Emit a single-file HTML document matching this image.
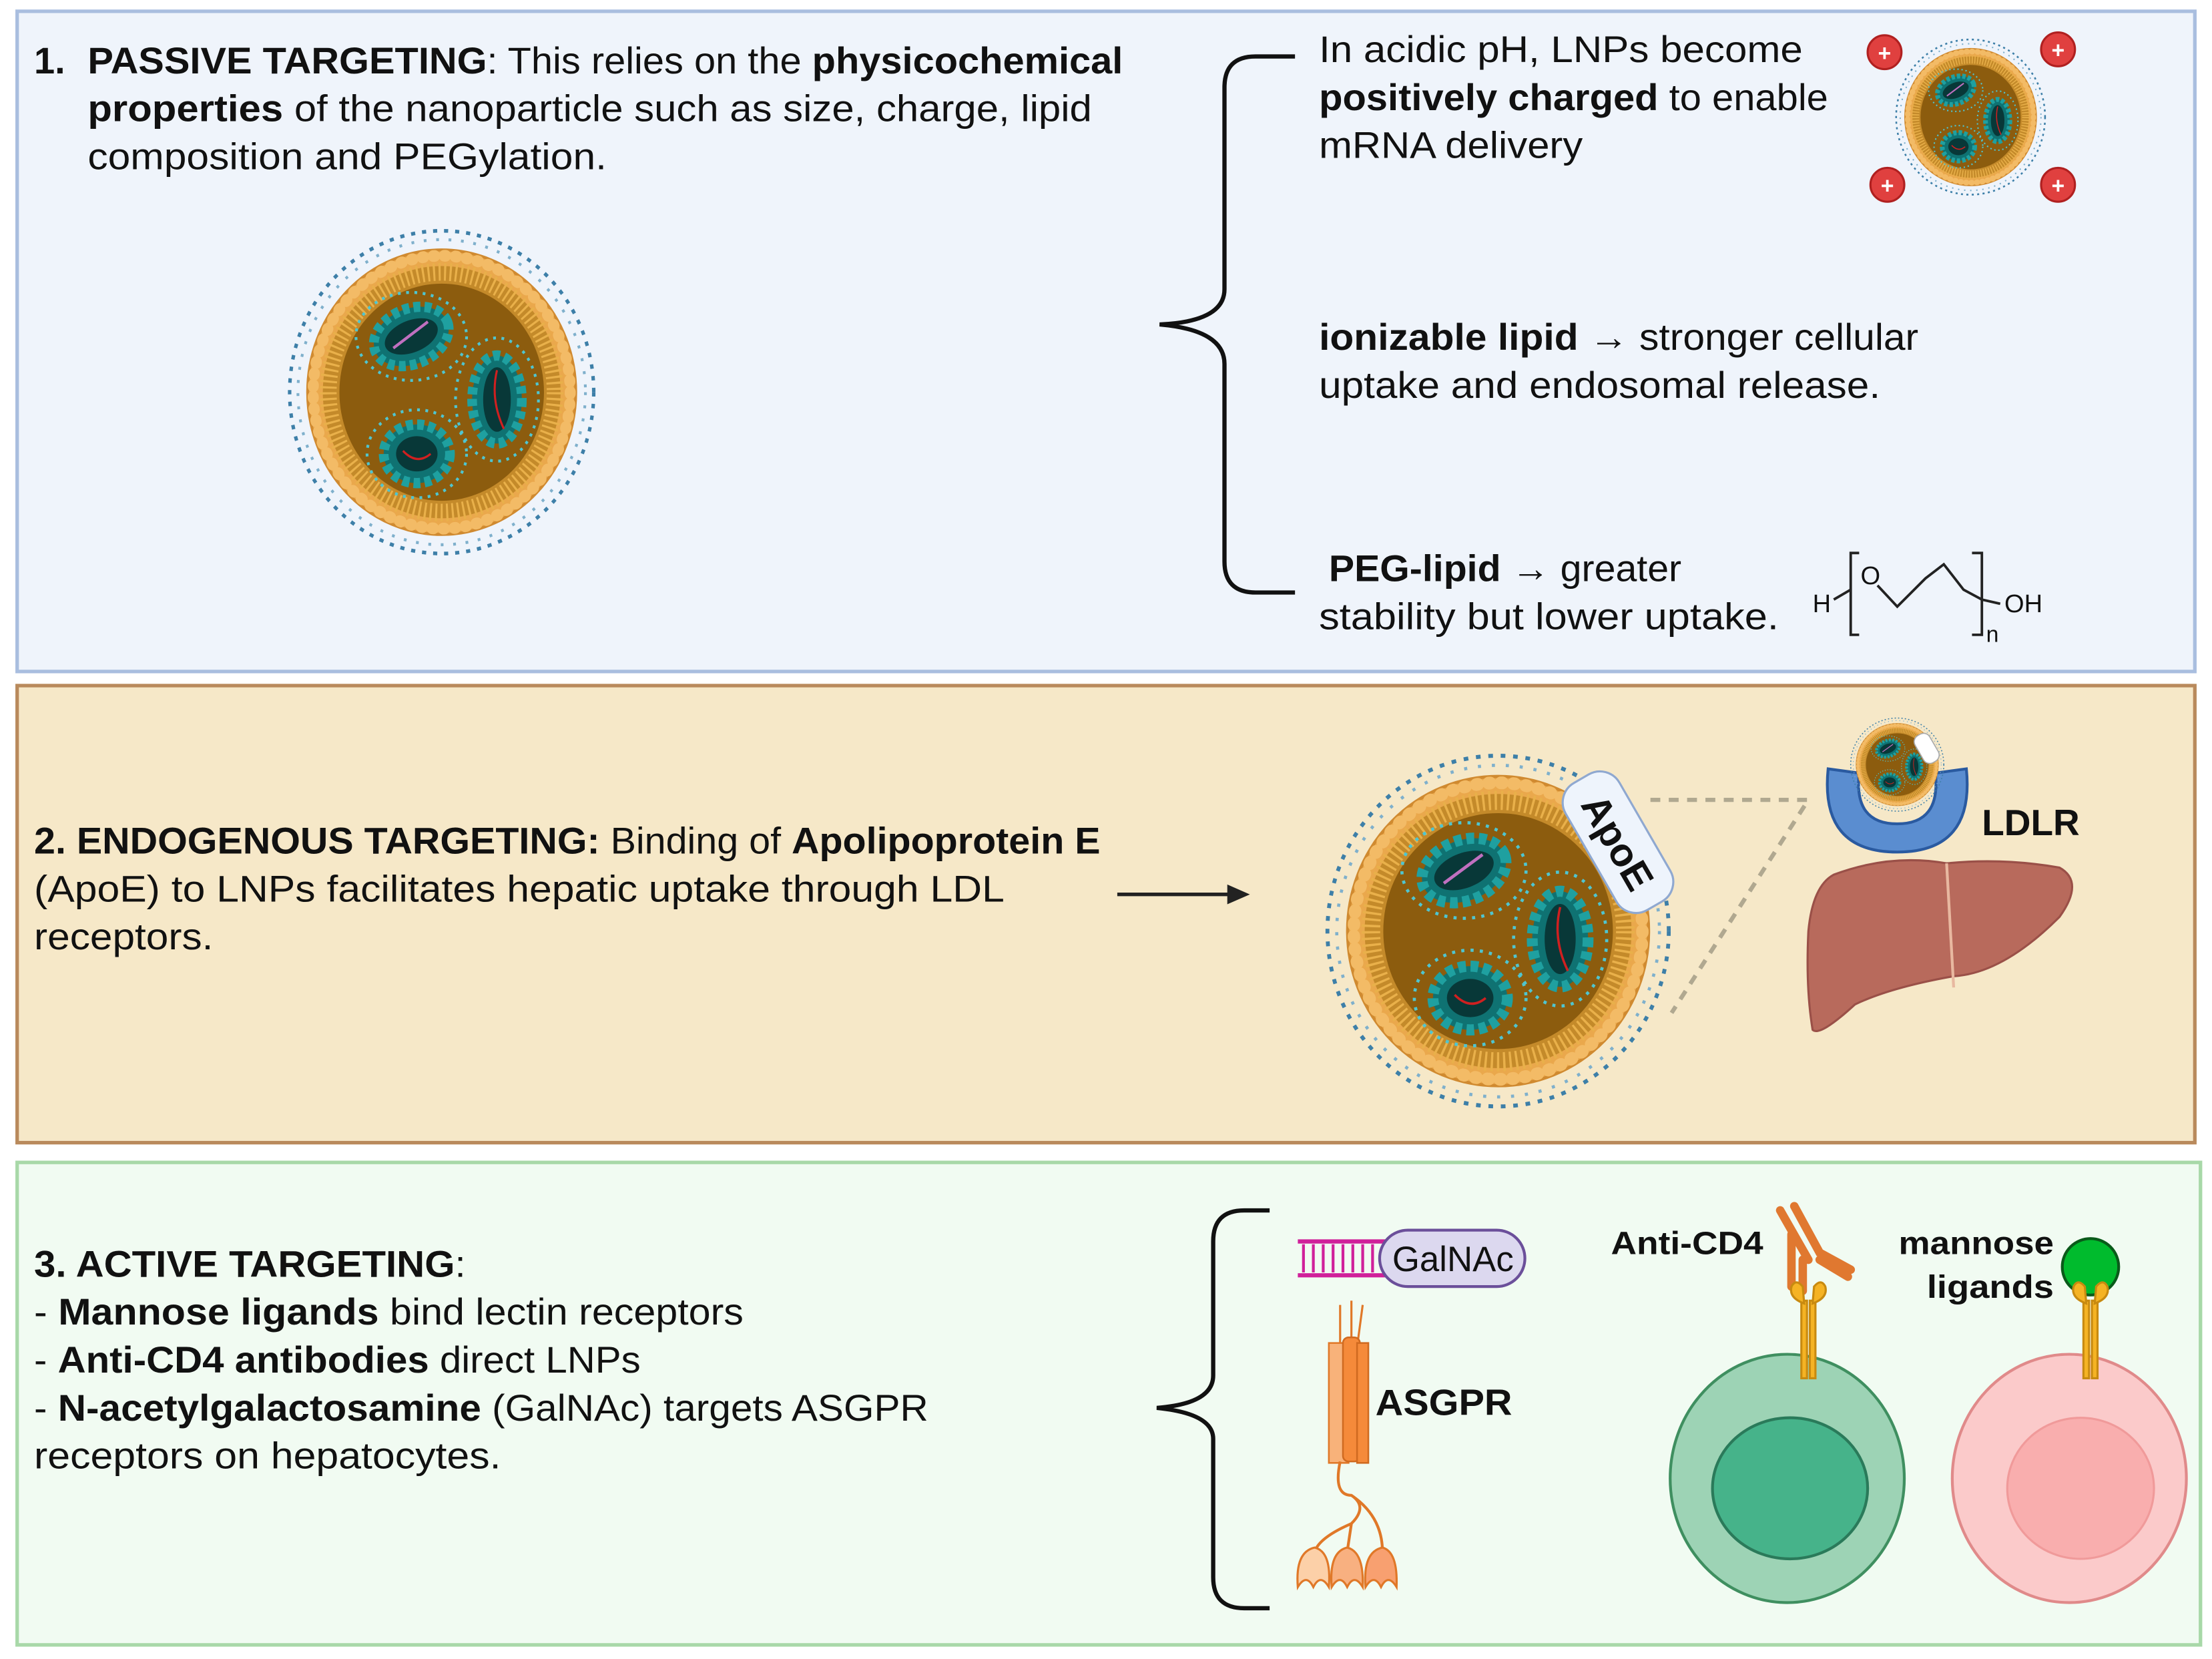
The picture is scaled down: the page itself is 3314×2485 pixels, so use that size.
<!DOCTYPE html>
<html><head><meta charset="utf-8"><style>
html,body{margin:0;padding:0;background:#fff;}
svg{display:block;}
text{font-family:"Liberation Sans",Arial,sans-serif;fill:#111;}
.t{font-size:26.5px;}
.b{font-weight:bold;}
</style></head><body>
<svg width="3314" height="2485" viewBox="0 0 1568 1176" xmlns="http://www.w3.org/2000/svg">
<defs>
<g id="lnp">
  <circle r="110" fill="none" stroke="#3d7fa8" stroke-width="2.5" stroke-dasharray="3 5"/>
  <circle r="104" fill="none" stroke="#7fb0cc" stroke-width="2" stroke-dasharray="2 7"/>
  <circle r="97" fill="#eaa84c" stroke="#d08a30" stroke-width="2"/>
  <circle r="93" fill="none" stroke="#f3bb66" stroke-width="8" stroke-dasharray="1 7" stroke-linecap="round"/>
  <circle r="86" fill="#c48a2a"/>
  <circle r="82" fill="none" stroke="#e9b04a" stroke-width="12" stroke-dasharray="1.5 2.5"/>
  <circle r="74" fill="#8c5c0e"/>
  <g stroke="#4fc5d0" stroke-width="2">
    <ellipse cx="-22" cy="-38" rx="40" ry="30" fill="none" stroke-dasharray="2 4"/>
    <ellipse cx="40" cy="5" rx="30" ry="42" fill="none" stroke-dasharray="2 4"/>
    <ellipse cx="-18" cy="42" rx="36" ry="30" fill="none" stroke-dasharray="2 4"/>
  </g>
  <g fill="#0f7272" stroke="#1fa0a0" stroke-width="7" stroke-dasharray="5 3">
    <ellipse cx="-22" cy="-38" rx="28" ry="19" transform="rotate(-20 -22 -38)"/>
    <ellipse cx="40" cy="5" rx="18" ry="30"/>
    <ellipse cx="-18" cy="42" rx="24" ry="20"/>
  </g>
  <ellipse cx="-22" cy="-38" rx="20" ry="11" fill="#083838" transform="rotate(-20 -22 -38)"/>
  <ellipse cx="40" cy="5" rx="10" ry="22" fill="#083838"/>
  <ellipse cx="-18" cy="42" rx="15" ry="12" fill="#083838"/>
  <path d="M-35,-30 L-10,-48" stroke="#c070c0" stroke-width="2"/>
  <path d="M40,-15 Q35,5 45,25" stroke="#d02020" stroke-width="1.5" fill="none"/>
  <path d="M-28,40 Q-18,50 -8,42" stroke="#d02020" stroke-width="1.5" fill="none"/>
</g>
<g id="rec" fill="#f5b324" stroke="#c88a10" stroke-width="1.5">
  <rect x="-5" y="0" width="4" height="55"/>
  <rect x="1" y="0" width="4" height="55"/>
  <path d="M-3,2 Q-14,-2 -12,-10 Q-9,-16 -4,-10 Z"/>
  <path d="M3,2 Q14,-2 12,-10 Q9,-16 4,-10 Z"/>
</g>
</defs>

<!-- Panel 1 -->
<rect x="12" y="8" width="1544" height="468" fill="#eff4fb" stroke="#a9bedf" stroke-width="2.5"/>
<text class="t b" x="24" y="52">1.</text>
<text class="t" x="62" y="52" textLength="734" lengthAdjust="spacingAndGlyphs"><tspan class="b">PASSIVE TARGETING</tspan>: This relies on the <tspan class="b">physicochemical</tspan></text>
<text class="t" x="62" y="86" textLength="712" lengthAdjust="spacingAndGlyphs"><tspan class="b">properties</tspan> of the nanoparticle such as size, charge, lipid</text>
<text class="t" x="62" y="120" textLength="368" lengthAdjust="spacingAndGlyphs">composition and PEGylation.</text>
<use href="#lnp" transform="translate(313,278) scale(0.98,1.04)"/>
<path d="M918,40 L890,40 Q868,40 868,62 L868,205 Q868,228 822,230 Q868,234 868,258 L868,398 Q868,420 890,420 L918,420" fill="none" stroke="#111" stroke-width="3"/>
<text class="t" x="935" y="44" textLength="343" lengthAdjust="spacingAndGlyphs">In acidic pH, LNPs become</text>
<text class="t" x="935" y="78" textLength="361" lengthAdjust="spacingAndGlyphs"><tspan class="b">positively charged</tspan> to enable</text>
<text class="t" x="935" y="112" textLength="187" lengthAdjust="spacingAndGlyphs">mRNA delivery</text>
<use href="#lnp" transform="translate(1397,83) scale(0.48,0.5)"/>
<g fill="#e0403f" stroke="#b02020" stroke-width="1.5">
<circle cx="1336" cy="37" r="12"/><circle cx="1459" cy="35" r="12"/><circle cx="1338" cy="131" r="12"/><circle cx="1459" cy="131" r="12"/>
</g>
<g font-size="16" font-weight="bold" text-anchor="middle">
<text x="1336" y="43" style="fill:#fff">+</text><text x="1459" y="41" style="fill:#fff">+</text><text x="1338" y="137" style="fill:#fff">+</text><text x="1459" y="137" style="fill:#fff">+</text>
</g>
<text class="t" x="935" y="248" textLength="425" lengthAdjust="spacingAndGlyphs"><tspan class="b">ionizable lipid</tspan> → stronger cellular</text>
<text class="t" x="935" y="282" textLength="398" lengthAdjust="spacingAndGlyphs">uptake and endosomal release.</text>
<text class="t" x="942" y="412" textLength="250" lengthAdjust="spacingAndGlyphs"><tspan class="b">PEG-lipid</tspan> → greater</text>
<text class="t" x="935" y="446" textLength="326" lengthAdjust="spacingAndGlyphs">stability but lower uptake.</text>
<g stroke="#222" stroke-width="1.8" fill="none">
<path d="M1318,392 L1312,392 L1312,450 L1318,450"/>
<path d="M1398,392 L1405,392 L1405,450 L1398,450"/>
<path d="M1300,425 L1312,418 M1331,415 L1345,430 L1365,410 L1378,400 L1392,418 L1405,425 L1418,428"/>
</g>
<text x="1285" y="434" font-size="18">H</text>
<text x="1319" y="414" font-size="18">O</text>
<text x="1421" y="434" font-size="18">OH</text>
<text x="1408" y="455" font-size="16">n</text>

<!-- Panel 2 -->
<rect x="12" y="486" width="1544" height="324" fill="#f6e8c8" stroke="#b98a5c" stroke-width="2.5"/>
<text class="t" x="24" y="605" textLength="756" lengthAdjust="spacingAndGlyphs"><tspan class="b">2.  ENDOGENOUS TARGETING:</tspan> Binding of <tspan class="b">Apolipoprotein E</tspan></text>
<text class="t" x="24" y="639" textLength="688" lengthAdjust="spacingAndGlyphs">(ApoE) to LNPs facilitates hepatic uptake through LDL</text>
<text class="t" x="24" y="673" textLength="127" lengthAdjust="spacingAndGlyphs">receptors.</text>
<path d="M792,634 L872,634" stroke="#222" stroke-width="2.5"/>
<path d="M886,634 L870,627 L870,641 Z" fill="#222"/>
<use href="#lnp" transform="translate(1062,660) scale(1.1,1.13)"/>
<path d="M1170,567 L1282,567 L1185,718" fill="none" stroke="#b0a890" stroke-width="3" stroke-dasharray="7 6"/>
<g transform="translate(1147,597) rotate(60)">
<rect x="-52" y="-22" width="104" height="44" rx="16" fill="#eef4fc" stroke="#8fa8d0" stroke-width="1.5"/>
<text x="0" y="10" font-size="28" font-weight="bold" text-anchor="middle">ApoE</text>
</g>
<path d="M1296,545 Q1290,604 1345,604 Q1400,604 1394,545 L1372,548 Q1376,584 1345,584 Q1314,584 1318,548 Z" fill="#5a8dd0" stroke="#2a5aa0" stroke-width="2"/>
<use href="#lnp" transform="translate(1345,542) scale(0.3)"/>
<rect x="1360" y="520" width="12" height="22" rx="5" fill="#fff" stroke="#aaa" stroke-width="0.8" transform="rotate(-30 1365 531)"/>
<text x="1405" y="592" font-size="26" font-weight="bold">LDLR</text>
<path d="M1300,620 Q1340,605 1380,612 Q1420,608 1460,615 Q1478,625 1460,650 Q1420,690 1385,692 Q1340,700 1315,712 Q1290,735 1285,730 Q1280,700 1282,660 Q1285,628 1300,620 Z" fill="#b86a5c" stroke="#9a5048" stroke-width="1.5"/>
<path d="M1380,612 L1385,700" stroke="#e8b8a0" stroke-width="2" fill="none"/>

<!-- Panel 3 -->
<rect x="12" y="824" width="1548" height="342" fill="#f1fbf2" stroke="#a8d8a8" stroke-width="2.5"/>
<text class="t" x="24" y="905" textLength="306" lengthAdjust="spacingAndGlyphs"><tspan class="b">3.  ACTIVE TARGETING</tspan>:</text>
<text class="t" x="24" y="939" textLength="503" lengthAdjust="spacingAndGlyphs">- <tspan class="b">Mannose ligands</tspan> bind lectin receptors</text>
<text class="t" x="24" y="973" textLength="430" lengthAdjust="spacingAndGlyphs">- <tspan class="b">Anti-CD4 antibodies</tspan> direct LNPs</text>
<text class="t" x="24" y="1007" textLength="634" lengthAdjust="spacingAndGlyphs">- <tspan class="b">N-acetylgalactosamine</tspan> (GalNAc) targets ASGPR</text>
<text class="t" x="24" y="1041" textLength="331" lengthAdjust="spacingAndGlyphs">receptors on hepatocytes.</text>
<path d="M900,858 L882,858 Q860,858 860,880 L860,975 Q860,995 820,998 Q860,1002 860,1020 L860,1118 Q860,1140 882,1140 L900,1140" fill="none" stroke="#111" stroke-width="3"/>
<g stroke="#d0209a" stroke-width="2">
<path d="M920,880 L982,880 M920,904 L982,904" stroke-width="3"/>
<path d="M924,882 V902 M931,882 V902 M938,882 V902 M945,882 V902 M952,882 V902 M959,882 V902 M966,882 V902 M973,882 V902"/>
</g>
<rect x="978" y="872" width="103" height="40" rx="20" fill="#dcd8ef" stroke="#6b4f9a" stroke-width="2"/>
<text x="1030" y="901" font-size="25" text-anchor="middle">GalNAc</text>
<g stroke="#e07828" fill="none" stroke-width="1.5">
<path d="M950,925 L950,955 M958,922 L958,955 M966,925 L962,955"/>
</g>
<rect x="942" y="952" width="14" height="85" fill="#f8b27a" stroke="#e07828" stroke-width="1.2"/>
<rect x="952" y="948" width="12" height="88" rx="4" fill="#f58a3a" stroke="#d06a20" stroke-width="1.2"/>
<rect x="962" y="952" width="8" height="85" fill="#f58a3a" stroke="#d06a20" stroke-width="1.2"/>
<g stroke="#e07828" fill="none" stroke-width="2">
<path d="M950,1036 Q945,1060 958,1060 Q970,1068 958,1080 Q935,1090 932,1100 M958,1080 L955,1100 M958,1060 Q980,1075 980,1100"/>
</g>
<g fill="#f8b080" stroke="#e07828" stroke-width="1.5">
<path d="M920,1125 Q918,1100 932,1097 Q944,1100 942,1125 Q936,1115 931,1125 Q926,1115 920,1125 Z" fill="#fcd0a8"/>
<path d="M944,1125 Q942,1100 955,1097 Q967,1100 966,1125 Q960,1115 955,1125 Q950,1115 944,1125 Z"/>
<path d="M968,1125 Q966,1100 980,1097 Q991,1100 990,1125 Q984,1115 979,1125 Q974,1115 968,1125 Z" fill="#f8a070"/>
</g>
<text x="975" y="1003" font-size="26" font-weight="bold" textLength="97" lengthAdjust="spacingAndGlyphs">ASGPR</text>
<text x="1142" y="889" font-size="23" font-weight="bold" textLength="108" lengthAdjust="spacingAndGlyphs">Anti-CD4</text>
<g stroke="#e07830" stroke-width="6" stroke-linecap="round" fill="none">
<path d="M1262,858 L1282,893"/><path d="M1272,855 L1290,888 L1312,900"/>
<path d="M1290,893 L1310,905"/>
<path d="M1270,875 L1270,912"/><path d="M1278,893 L1278,915"/>
</g>
<ellipse cx="1267" cy="1048" rx="83" ry="88" fill="#9dd3b5" stroke="#3f8f60" stroke-width="2"/>
<ellipse cx="1269" cy="1055" rx="55" ry="50" fill="#46b38a" stroke="#2a7a5a" stroke-width="2"/>
<use href="#rec" transform="translate(1282,922)"/>
<text x="1456" y="889" font-size="23" font-weight="bold" text-anchor="end" textLength="110" lengthAdjust="spacingAndGlyphs">mannose</text>
<text x="1456" y="920" font-size="23" font-weight="bold" text-anchor="end" textLength="90" lengthAdjust="spacingAndGlyphs">ligands</text>
<circle cx="1482" cy="898" r="20" fill="#00bb2d" stroke="#0a5a1a" stroke-width="2"/>
<ellipse cx="1467" cy="1048" rx="83" ry="88" fill="#fbcaca" stroke="#e08a8a" stroke-width="2"/>
<ellipse cx="1475" cy="1055" rx="52" ry="50" fill="#f9aeae" stroke="#f09a9a" stroke-width="1.5"/>
<use href="#rec" transform="translate(1482,922)"/>
</svg>
</body></html>
